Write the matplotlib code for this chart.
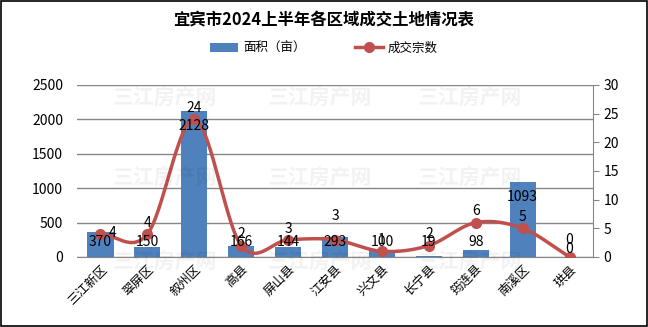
import numpy as np
import matplotlib
matplotlib.use("Agg")
import matplotlib.pyplot as plt
from matplotlib.patches import Rectangle

plt.rcParams['font.family'] = ['Noto Sans CJK SC', 'DejaVu Sans']

# === DATA ===
districts = ["三江新区", "翠屏区", "叙州区", "高县", "屏山县", "江安县",
             "兴文县", "长宁县", "筠连县", "南溪区", "珙县"]
area_mu = [370, 150, 2128, 166, 144, 293, 100, 19, 98, 1093, 0]
deal_count = [4, 4, 24, 2, 3, 3, 1, 2, 6, 5, 0]

BAR_COLOR = "#4F81BD"
LINE_COLOR = "#C0504D"
GRID_COLOR = "#868686"


def catmull_rom(x, y, n=30):
    """Smooth curve through the points, like a spreadsheet 'smoothed line'"""
    x = np.asarray(x, float)
    y = np.asarray(y, float)
    px = np.concatenate([[2 * x[0] - x[1]], x, [2 * x[-1] - x[-2]]])
    py = np.concatenate([[2 * y[0] - y[1]], y, [2 * y[-1] - y[-2]]])
    xs, ys = [], []
    t = np.linspace(0, 1, n)
    for i in range(1, len(px) - 2):
        for p, out in ((px, xs), (py, ys)):
            p0, p1, p2, p3 = p[i - 1], p[i], p[i + 1], p[i + 2]
            seg = 0.5 * ((2 * p1) + (-p0 + p2) * t
                         + (2 * p0 - 5 * p1 + 4 * p2 - p3) * t ** 2
                         + (-p0 + 3 * p1 - 3 * p2 + p3) * t ** 3)
            out.extend(seg)
    return np.array(xs), np.array(ys)


fig = plt.figure(figsize=(6.48, 3.27), dpi=100)
fig.patches.append(Rectangle((0.001, 0.002), 0.997, 0.995, transform=fig.transFigure,
                             fill=False, edgecolor="black", linewidth=1.2, zorder=10))

ax = fig.add_axes([77 / 648, 70 / 327, (593 - 77) / 648, (257 - 85) / 327])
ax2 = ax.twinx()

x = np.arange(len(districts))

# watermark
for wx in (165, 320, 470):
    for wy in (98, 178, 262):
        fig.text(wx / 648, 1 - wy / 327, "三江房产网", fontsize=15, fontweight="bold",
                 color="#000000", alpha=0.05, ha="center", va="center", zorder=0)

# bars
ax.bar(x, area_mu, width=0.56, color=BAR_COLOR, zorder=2, label="面积（亩）")
ax.set_ylim(0, 2500)
ax.set_yticks(range(0, 2501, 500))
ax.set_xlim(-0.5, len(districts) - 0.5)
ax.yaxis.grid(True, color=GRID_COLOR, linewidth=1)
ax.set_axisbelow(True)
ax.tick_params(axis="y", length=0, labelsize=10, pad=10)
ax.set_xticks(x)
ax.set_xticklabels(districts, rotation=45, ha="right", rotation_mode="anchor", fontsize=9)
ax.tick_params(axis="x", length=0, pad=4)
for s in ("top", "left", "right"):
    ax.spines[s].set_visible(False)
ax.spines["bottom"].set_color(GRID_COLOR)

# line
sx, sy = catmull_rom(x, deal_count)
ax2.plot(sx, sy, color=LINE_COLOR, linewidth=2.5, zorder=3)
ax2.plot(x, deal_count, "o", color=LINE_COLOR, markersize=7, zorder=4)
ax2.plot([], [], color=LINE_COLOR, linewidth=2.5, marker="o", markersize=7, label="成交宗数")
ax2.set_ylim(0, 30)
ax2.set_yticks(range(0, 31, 5))
ax2.tick_params(axis="y", direction="out", length=4, color=GRID_COLOR, labelsize=10)
for s in ("top", "left", "bottom"):
    ax2.spines[s].set_visible(False)
ax2.spines["right"].set_color(GRID_COLOR)

# bar value labels, drawn on the top axes so the line stays underneath
for xi, v in zip(x, area_mu):
    ypos = max(v - 218, 218) if v > 0 else 110
    ax2.text(xi, ypos, str(v), transform=ax.transData, ha="center", va="center",
             fontsize=10, zorder=6)

label_offsets = {0: (9, 1), 5: (0, 17), 10: (0, 12)}
for i, (xi, v) in enumerate(zip(x, deal_count)):
    dx, dy = label_offsets.get(i, (0, 8))
    ax2.annotate(str(v), (xi, v), xytext=(dx, dy), textcoords="offset points",
                 ha="center", va="center", fontsize=10, zorder=6)

# title and legend
fig.text(0.5, 1 - 20 / 327, "宜宾市2024上半年各区域成交土地情况表", ha="center", va="center",
         fontsize=11.8, fontweight="bold")
h1, l1 = ax.get_legend_handles_labels()
h2, l2 = ax2.get_legend_handles_labels()
fig.legend(h1 + h2, l1 + l2, loc="center", bbox_to_anchor=(0.5, 1 - 48 / 327), ncol=2,
           frameon=False, fontsize=9, handlelength=2.2, columnspacing=4, handletextpad=0.4)

fig.savefig("out.png", dpi=100)
